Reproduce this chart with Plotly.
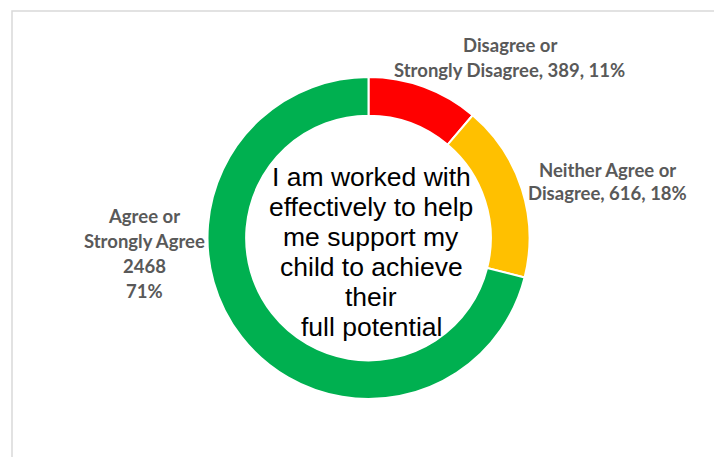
import plotly.graph_objects as go

categories = ["Disagree or Strongly Disagree", "Neither Agree or Disagree", "Agree or Strongly Agree"]
values = [389, 616, 2468]
percents = ["11%", "18%", "71%"]
colors = ["#FF0000", "#FFC000", "#00B050"]
center_title = ["I am worked with", "effectively to help", "me support my",
                "child to achieve", "their", "full potential"]

# page body has an 8px margin; work in window pixels and convert
OFF = 8
W, H = 714, 449


def px(x):
    return (x - OFF) / W


def py(y):
    return 1 - (y - OFF) / H


fig = go.Figure(go.Pie(
    labels=categories,
    values=values,
    hole=0.76,
    sort=False,
    direction="clockwise",
    rotation=0,
    marker=dict(colors=colors, line=dict(color="white", width=2)),
    textinfo="none",
    hoverinfo="label+value+percent",
    showlegend=False,
    domain=dict(x=[px(368.5 - 161), px(368.5 + 161)],
                y=[py(399), py(77)]),
))

# Data label lines built from data
label_lines = [
    ["Disagree or", f"Strongly Disagree, {values[0]}, {percents[0]}"],
    ["Neither Agree or", f"Disagree, {values[1]}, {percents[1]}"],
    ["Agree or", "Strongly Agree", f"{values[2]}", percents[2]],
]
label_pos = [(510, 45, 25), (607, 170, 23), (144, 216, 25)]

annotations = []
for lines, (cx, y0, dy) in zip(label_lines, label_pos):
    for i, t in enumerate(lines):
        annotations.append(dict(
            x=px(cx), y=py(y0 + i * dy), xref="paper", yref="paper",
            text=t, showarrow=False, xanchor="center", yanchor="middle",
            font=dict(family="Lato", size=18.5, color="#595959", weight="bold"),
        ))

for i, t in enumerate(center_title):
    annotations.append(dict(
        x=px(371), y=py(177 + 30 * i), xref="paper", yref="paper",
        text=t, showarrow=False, xanchor="center", yanchor="middle",
        font=dict(family="Liberation Sans", size=26.5, color="#000000"),
    ))

fig.update_layout(
    width=W, height=H,
    margin=dict(l=0, r=0, t=0, b=0),
    paper_bgcolor="white",
    plot_bgcolor="white",
    annotations=annotations,
    shapes=[dict(type="rect", xref="paper", yref="paper",
                 x0=px(12), x1=px(717), y0=-0.05, y1=py(11),
                 line=dict(color="#D9D9D9", width=1.5), fillcolor="rgba(0,0,0,0)")],
)

fig.write_html("out.html")
